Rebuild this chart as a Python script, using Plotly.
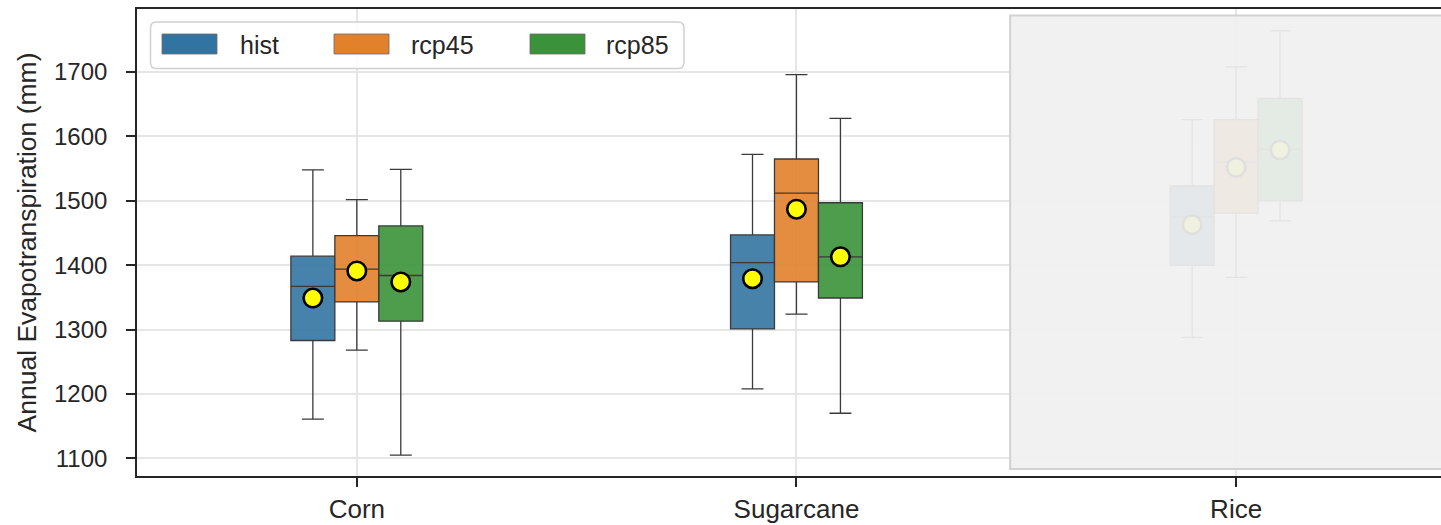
import plotly.graph_objects as go

# ---------------- data ----------------
categories = ["Corn", "Sugarcane", "Rice"]
series = ["hist", "rcp45", "rcp85"]

hist_lo = [1161, 1208, 1288]
hist_q1 = [1283, 1301, 1400]
hist_med = [1367, 1404, 1475]
hist_q3 = [1414, 1447, 1523]
hist_hi = [1548, 1572, 1626]
hist_mean = [1349, 1379, 1463]

rcp45_lo = [1268, 1324, 1381]
rcp45_q1 = [1343, 1374, 1481]
rcp45_med = [1394, 1512, 1560]
rcp45_q3 = [1446, 1565, 1626]
rcp45_hi = [1502, 1696, 1708]
rcp45_mean = [1391, 1487, 1552]

rcp85_lo = [1105, 1170, 1469]
rcp85_q1 = [1313, 1349, 1500]
rcp85_med = [1384, 1413, 1580]
rcp85_q3 = [1461, 1497, 1659]
rcp85_hi = [1549, 1628, 1764]
rcp85_mean = [1374, 1413, 1579]

y_ticks = [1100, 1200, 1300, 1400, 1500, 1600, 1700]
y_title = "Annual Evapotranspiration (mm)"

# ---------------- styling ----------------
fill_colors = ["rgba(50,116,161,0.9)", "rgba(225,129,44,0.9)", "rgba(58,146,58,0.9)"]
solid_colors = ["#3274a1", "#e1812c", "#3a923a"]
offsets = [-0.1, 0.0, 0.1]
box_width = 0.1
FONT = "Liberation Sans, Arial, sans-serif"
TXT = "#262626"

W, H = 1441, 525
PL, PR, PT, PB = 137, 1441, 9, 476


def px_x(x):
    return (x - PL) / (PR - PL)


def px_y(y):
    return (PB - y) / (PB - PT)


stats = {
    "hist": (hist_lo, hist_q1, hist_med, hist_q3, hist_hi, hist_mean),
    "rcp45": (rcp45_lo, rcp45_q1, rcp45_med, rcp45_q3, rcp45_hi, rcp45_mean),
    "rcp85": (rcp85_lo, rcp85_q1, rcp85_med, rcp85_q3, rcp85_hi, rcp85_mean),
}

fig = go.Figure()
for k, s in enumerate(series):
    lo, q1, med, q3, hi, mean = stats[s]
    xs = [i + offsets[k] for i in range(len(categories))]
    fig.add_trace(go.Box(
        x=xs, lowerfence=lo, q1=q1, median=med, q3=q3, upperfence=hi,
        width=box_width, whiskerwidth=0.5,
        fillcolor=fill_colors[k],
        line=dict(color="#3a3a3a", width=1.3),
        name=s, showlegend=False, boxpoints=False,
    ))
for k, s in enumerate(series):
    mean = stats[s][5]
    xs = [i + offsets[k] for i in range(len(categories))]
    fig.add_trace(go.Scatter(
        x=xs, y=mean, mode="markers", showlegend=False,
        marker=dict(color="#ffff00", size=18.5, line=dict(color="black", width=2.6)),
    ))

shapes = []
# Rice shaded overlay
shapes.append(dict(
    type="rect", layer="above", xref="x", yref="paper",
    x0=1.486, x1=2.6, y0=0.015, y1=0.986,
    fillcolor="rgba(240,240,240,0.93)",
    line=dict(color="#d2d2d2", width=2),
))

# manual legend (rectangular patches like the reference)
fx0, fx1, fy0, fy1 = 150.5, 684, 22, 68.5
r = 6


def P(x, y):
    return f"{px_x(x):.6f},{px_y(y):.6f}"


path = (f"M {P(fx0 + r, fy0)} L {P(fx1 - r, fy0)} Q {P(fx1, fy0)} {P(fx1, fy0 + r)} "
        f"L {P(fx1, fy1 - r)} Q {P(fx1, fy1)} {P(fx1 - r, fy1)} "
        f"L {P(fx0 + r, fy1)} Q {P(fx0, fy1)} {P(fx0, fy1 - r)} "
        f"L {P(fx0, fy0 + r)} Q {P(fx0, fy0)} {P(fx0 + r, fy0)} Z")
shapes.append(dict(type="path", xref="paper", yref="paper", path=path, layer="above",
                   fillcolor="rgba(255,255,255,0.85)", line=dict(color="#d0d0d0", width=1.5)))

leg_patch_x = [162, 334, 530]
leg_text_x = [239, 410, 605]
patch_w = 55
annotations = []
for k, s in enumerate(series):
    shapes.append(dict(type="rect", xref="paper", yref="paper", layer="above",
                       x0=px_x(leg_patch_x[k]), x1=px_x(leg_patch_x[k] + patch_w),
                       y0=px_y(54), y1=px_y(34),
                       fillcolor=solid_colors[k], line=dict(color="#6a6a6a", width=0.8)))
    annotations.append(dict(xref="paper", yref="paper", x=px_x(leg_text_x[k] - 1), y=px_y(44.5),
                            text=s, showarrow=False, xanchor="left", yanchor="middle",
                            font=dict(family=FONT, size=25, color=TXT)))

fig.update_layout(
    width=W, height=H,
    margin=dict(l=PL, r=W - PR, t=PT, b=H - PB, autoexpand=False),
    paper_bgcolor="white", plot_bgcolor="white",
    showlegend=False,
    boxmode="overlay",
    shapes=shapes, annotations=annotations,
    font=dict(family=FONT, color=TXT),
)
fig.update_xaxes(
    range=[-0.5, 2.466],
    tickvals=list(range(len(categories))), ticktext=categories,
    showgrid=True, gridcolor="#e6e6e6", gridwidth=1.5,
    showline=True, linecolor="#262626", linewidth=1.6, mirror=True,
    ticks="outside", ticklen=9, tickwidth=1.5, tickcolor="#262626",
    tickfont=dict(family=FONT, size=26, color=TXT),
    zeroline=False, automargin=False,
)
fig.update_yaxes(
    range=[1072.5, 1798],
    tickvals=y_ticks,
    showgrid=True, gridcolor="#e6e6e6", gridwidth=1.5,
    showline=True, linecolor="#262626", linewidth=1.6, mirror=False,
    ticks="outside", ticklen=9, tickwidth=1.5, tickcolor="#262626",
    ticklabelstandoff=14,
    tickfont=dict(family=FONT, size=24, color=TXT),
    title=dict(text=y_title, font=dict(family=FONT, size=26.5, color=TXT), standoff=10),
    zeroline=False, automargin=False,
)

fig.write_html(
    "out.html",
    config={"displayModeBar": False},
    post_script="document.body.style.margin='0';document.body.style.overflow='hidden';",
)
